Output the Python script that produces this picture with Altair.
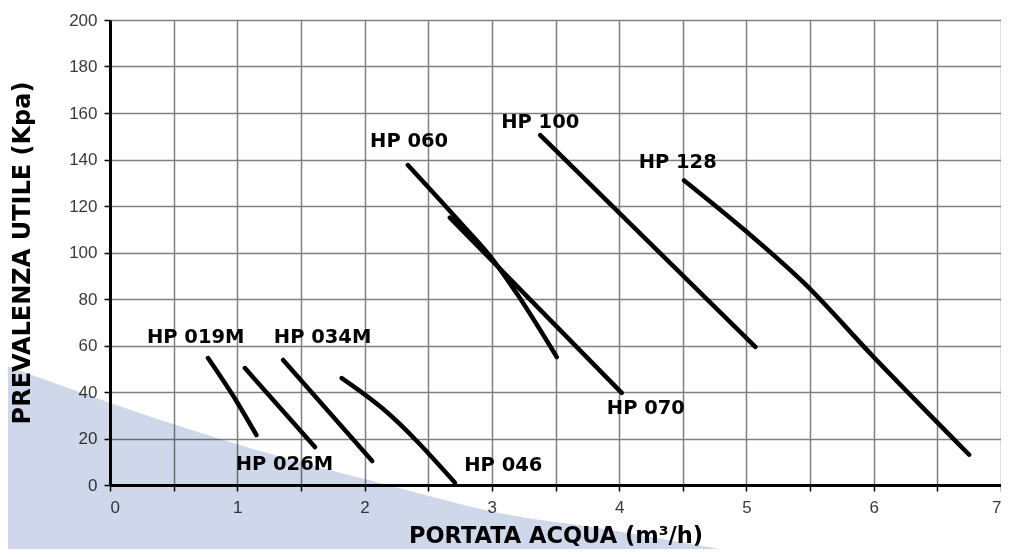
import altair as alt
import pandas as pd

# ---- axis ticks ----
FLOW_TICKS = [0, 0.5, 1, 1.5, 2, 2.5, 3, 3.5, 4, 4.5, 5, 5.5, 6, 6.5, 7]
HEAD_TICKS = [0, 20, 40, 60, 80, 100, 120, 140, 160, 180, 200]

# ---- pump curves (flow m3/h, head kPa) ----
HP019M_X = [0.77, 1.00, 1.15]
HP019M_Y = [54.6, 35.5, 21.5]
HP026M_X = [1.06, 1.61]
HP026M_Y = [50.3, 16.3]
HP034M_X = [1.36, 2.06]
HP034M_Y = [53.8, 10.3]
HP046_X = [1.82, 2.14, 2.71]
HP046_Y = [46.0, 33.0, 1.0]
HP060_X = [2.34, 2.75, 3.00, 3.20, 3.51]
HP060_Y = [137.6, 113.0, 97.5, 82.0, 55.0]
HP070_X = [2.67, 4.02]
HP070_Y = [115.0, 39.6]
HP100_X = [3.38, 5.07]
HP100_Y = [150.5, 59.4]
HP128_X = [4.51, 5.00, 5.45, 6.00, 6.75]
HP128_Y = [131.0, 109.0, 87.0, 55.0, 13.0]

CURVES = {
    "HP 019M": (HP019M_X, HP019M_Y),
    "HP 026M": (HP026M_X, HP026M_Y),
    "HP 034M": (HP034M_X, HP034M_Y),
    "HP 046": (HP046_X, HP046_Y),
    "HP 060": (HP060_X, HP060_Y),
    "HP 070": (HP070_X, HP070_Y),
    "HP 100": (HP100_X, HP100_Y),
    "HP 128": (HP128_X, HP128_Y),
}

# ---- curve labels ----
LABEL_TEXT = ["HP 019M", "HP 034M", "HP 026M", "HP 046", "HP 060", "HP 100", "HP 128", "HP 070"]
LABEL_X = [0.673, 1.67, 1.37, 3.09, 2.35, 3.38, 4.46, 4.21]
LABEL_Y = [63.7, 63.7, 9.0, 8.6, 148.1, 156.0, 139.1, 33.0]

# ---- background decoration (blue wedge) ----
WEDGE_X = [-0.9, 1.096, 2.271, 3.054, 3.837, 5.145, 6.19]
WEDGE_Y = [53.0, 15.9, -1.3, -12.0, -18.5, -31.0, -40.9]
WEDGE_BOTTOM = -50

rows = []
for name, (xs_, ys_) in CURVES.items():
    for i, (xv, yv) in enumerate(zip(xs_, ys_)):
        rows.append({"series": name, "i": i, "x": xv, "y": yv})
curves_df = pd.DataFrame(rows)
labels_df = pd.DataFrame({"text": LABEL_TEXT, "x": LABEL_X, "y": LABEL_Y})
wedge_df = pd.DataFrame({"x": WEDGE_X, "y": WEDGE_Y, "y2": [WEDGE_BOTTOM] * len(WEDGE_X)})

W, H = 891, 465

x_axis = alt.Axis(
    values=FLOW_TICKS,
    labelExpr="datum.value % 1 == 0 ? format(datum.value, 'd') : ''",
    title="PORTATA ACQUA (m³/h)",
    titleFontSize=22.5,
    titleX=W / 2, titleY=50, titleAlign="center", titleBaseline="middle",
    labelPadding=8,
)
y_axis = alt.Axis(
    values=HEAD_TICKS,
    title="PREVALENZA UTILE (Kpa)",
    titleFontSize=24,
    titleAngle=270, titleX=-88, titleY=H / 2, titleAlign="center", titleBaseline="middle",
    labelPadding=7,
)
xs = alt.Scale(domain=[0, 7], nice=False, zero=False)
ys = alt.Scale(domain=[0, 200], nice=False, zero=False)


def X():
    return alt.X("x:Q", scale=xs, axis=x_axis)


def Y():
    return alt.Y("y:Q", scale=ys, axis=y_axis)


wedge = alt.Chart(wedge_df).mark_area(
    color="#cfd8ea", blend="multiply", clip=False, interpolate="monotone"
).encode(x=X(), y=Y(), y2="y2:Q")

lines = alt.Chart(curves_df).mark_line(
    color="black", strokeWidth=4.5, strokeCap="round", strokeJoin="round", interpolate="monotone"
).encode(x=X(), y=Y(), detail="series:N", order="i:Q")

labels = alt.Chart(labels_df).mark_text(
    font="DejaVu Sans", fontWeight="bold", fontSize=19.5, color="black",
    align="center", baseline="middle"
).encode(x=X(), y=Y(), text="text:N")

chart = alt.layer(wedge, lines, labels).properties(
    width=W, height=H,
    autosize=alt.AutoSizeParams(type="none"),
    padding={"left": 102, "top": 12, "right": 0, "bottom": 64},
).configure_axis(
    domainColor="black", domainWidth=3,
    tickColor="black", tickWidth=1.5, tickSize=6,
    gridColor="#808080", gridWidth=1.5, gridOpacity=1,
    labelFont="Liberation Sans", labelFontSize=17, labelColor="#3a3a3a",
    titleFont="DejaVu Sans", titleFontWeight="bold", titleColor="black",
).configure_view(strokeWidth=0)

chart.save("out.html", embed_options={"renderer": "svg", "actions": False})
